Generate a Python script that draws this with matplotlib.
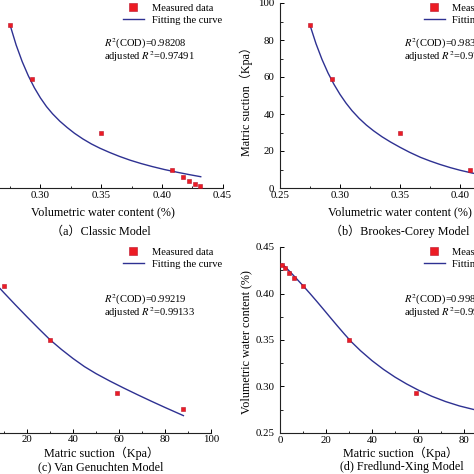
import matplotlib as mpl
import matplotlib.pyplot as plt
from matplotlib.ticker import MultipleLocator, FormatStrFormatter

mpl.rcParams["font.family"] = ["Liberation Serif", "Noto Sans CJK SC"]
mpl.rcParams["mathtext.fontset"] = "stix"
mpl.rcParams["font.size"] = 8.5

W = 474.0

# measured data (suction in kPa, volumetric water content)
suction = [1, 2, 4, 6, 10, 30, 59, 88]
theta = [0.431, 0.427, 0.422, 0.417, 0.408, 0.350, 0.293, 0.275]

# fitted curves
fit_a_x = [0.275, 0.280, 0.285, 0.290, 0.295, 0.300, 0.305, 0.310, 0.316, 0.322, 0.328,
           0.335, 0.342, 0.349, 0.357, 0.365, 0.374, 0.383, 0.392, 0.402, 0.412, 0.422, 0.432]
fit_a_y = [88.1, 77.3, 68.3, 60.7, 54.2, 48.7, 44.0, 40.1, 36.1, 32.7, 29.6,
           26.5, 23.8, 21.5, 19.2, 17.1, 15.0, 13.2, 11.6, 10.0, 8.6, 7.3, 6.1]

fit_b_x = [0.275, 0.280, 0.285, 0.290, 0.295, 0.300, 0.305, 0.310, 0.316, 0.322, 0.328,
           0.335, 0.342, 0.350, 0.358, 0.367, 0.375, 0.383, 0.392, 0.400, 0.410, 0.420, 0.432]
fit_b_y = [88.0, 78.0, 69.5, 62.2, 56.0, 50.6, 45.9, 41.8, 37.6, 34.0, 30.9,
           27.7, 24.9, 22.0, 19.3, 16.6, 14.6, 12.8, 11.0, 9.6, 8.1, 6.9, 5.6]

fit_c_x = [1, 5, 10, 15, 20, 25, 30, 35, 40, 45, 50, 56, 62, 68, 74, 80, 88]
fit_c_y = [0.4249, 0.4140, 0.4006, 0.3875, 0.3747, 0.3622, 0.3500, 0.3395, 0.3298,
           0.3210, 0.3135, 0.3055, 0.2980, 0.2908, 0.2838, 0.2770, 0.2682]

fit_d_x = [1, 3, 5, 7, 10, 13, 16, 19, 22, 25, 28, 31, 35, 40, 45, 50, 55, 60, 66, 72, 78, 84, 88]
fit_d_y = [0.4317, 0.4268, 0.4217, 0.4164, 0.4084, 0.4001, 0.3915, 0.3827, 0.3738, 0.3650,
           0.3564, 0.3481, 0.3385, 0.3278, 0.3184, 0.3101, 0.3028, 0.2963, 0.2895, 0.2838,
           0.2791, 0.2754, 0.2733]

r2_texts = {
    "a": ("0.98208", "0.97491"),
    "b": ("0.98352", "0.97696"),
    "c": ("0.99219", "0.99133"),
    "d": ("0.99867", "0.99823"),
}
captions = {
    "a": "（a）Classic Model",
    "b": "（b）Brookes-Corey Model",
    "c": "(c) Van Genuchten Model",
    "d": "(d) Fredlund-Xing Model",
}

RED = "#ec1c24"
RED_EDGE = "#b8112a"
BLUE = "#2e3192"

TXT = 7.6
LBL = 8.7


def add_px_axes(fig, left, right, top, bottom):
    return fig.add_axes([left / W, 1 - bottom / W, (right - left) / W, (bottom - top) / W])


def style(ax):
    for side in ("top", "right"):
        ax.spines[side].set_visible(False)
    for side in ("left", "bottom"):
        ax.spines[side].set_linewidth(0.8)
        ax.spines[side].set_color("#222222")
    ax.tick_params(which="major", direction="in", length=3, width=0.7, labelsize=7.8)
    ax.tick_params(which="minor", direction="in", length=1.8, width=0.6)
    ax.tick_params(axis="x", which="major", pad=2.0)
    ax.tick_params(axis="y", which="major", pad=4.0)


def fx(px):
    return px / W


def fy(py):
    return 1 - py / W


fig = plt.figure(figsize=(4.74, 4.74), dpi=100)

panels = {
    "a": add_px_axes(fig, -20.3, 222.6, 3, 188),
    "b": add_px_axes(fig, 280, 520, 3, 188),
    "c": add_px_axes(fig, -19, 211, 247, 432.5),
    "d": add_px_axes(fig, 280, 510, 247, 433),
}
fits = {
    "a": (fit_a_x, fit_a_y),
    "b": (fit_b_x, fit_b_y),
    "c": (fit_c_x, fit_c_y),
    "d": (fit_d_x, fit_d_y),
}
# pixel offsets of each panel's legend / R2 text / caption relative to panel (a)
legend_off = {"a": (0, 0), "b": (301, 0), "c": (0, 244), "d": (301, 244)}
r2_off = {"a": (0, 0), "b": (300, 0), "c": (0, 256), "d": (300, 256)}
caption_pos = {"a": (101, 232), "b": (400, 231), "c": (101, 467), "d": (402, 467)}

for key, ax in panels.items():
    style(ax)
    if key in ("a", "b"):
        xs, ys = theta, suction
        ax.set_xlim(0.25, 0.45)
        ax.set_ylim(0, 100)
        ax.xaxis.set_major_locator(MultipleLocator(0.05))
        ax.xaxis.set_minor_locator(MultipleLocator(0.025))
        ax.xaxis.set_major_formatter(FormatStrFormatter("%.2f"))
        ax.yaxis.set_major_locator(MultipleLocator(20))
        ax.yaxis.set_minor_locator(MultipleLocator(10))
    else:
        xs, ys = suction, theta
        ax.set_xlim(0, 100)
        ax.set_ylim(0.25, 0.45)
        ax.xaxis.set_major_locator(MultipleLocator(20))
        ax.xaxis.set_minor_locator(MultipleLocator(10))
        ax.yaxis.set_major_locator(MultipleLocator(0.05))
        ax.yaxis.set_minor_locator(MultipleLocator(0.025))
        ax.yaxis.set_major_formatter(FormatStrFormatter("%.2f"))

    ax.plot(xs, ys, "s", color=RED, mec=RED_EDGE, mew=0.4, ms=3.4,
            label="Measured data", zorder=3, clip_on=False)
    ax.plot(*fits[key], "-", color=BLUE, lw=1.0, label="Fitting the curve", zorder=2)

    ox, oy = legend_off[key]
    fig.legend(*ax.get_legend_handles_labels(), loc="upper left",
               bbox_to_anchor=(fx(123 + ox), fy(3.5 + oy)), frameon=False,
               borderpad=0, borderaxespad=0, handlelength=1.95, handletextpad=0.75,
               labelspacing=0.22, markerscale=1.9, fontsize=TXT)

    ox, oy = r2_off[key]
    r2, adj = r2_texts[key]
    fig.text(fx(104 + ox), fy(44 + oy), rf"$R^2$(COD)={r2}", va="center", fontsize=TXT)
    fig.text(fx(104 + ox), fy(57 + oy), rf"adjusted $R^2$={adj}", va="center", fontsize=TXT)

    cx, cy = caption_pos[key]
    fig.text(fx(cx), fy(cy), captions[key], ha="center", va="center", fontsize=LBL)

# axis labels
fig.text(fx(103), fy(212), "Volumetric water content (%)", ha="center", va="center", fontsize=LBL)
fig.text(fx(400), fy(212), "Volumetric water content (%)", ha="center", va="center", fontsize=LBL)
fig.text(fx(102), fy(453), "Matric suction（Kpa）", ha="center", va="center", fontsize=LBL)
fig.text(fx(401), fy(453), "Matric suction（Kpa）", ha="center", va="center", fontsize=LBL)
fig.text(fx(246), fy(98), "Matric suction（Kpa）", ha="center", va="center", rotation=90, fontsize=LBL)
fig.text(fx(246), fy(342), "Volumetric water content (%)", ha="center", va="center", rotation=90, fontsize=LBL)

fig.savefig("out.png", dpi=100)
